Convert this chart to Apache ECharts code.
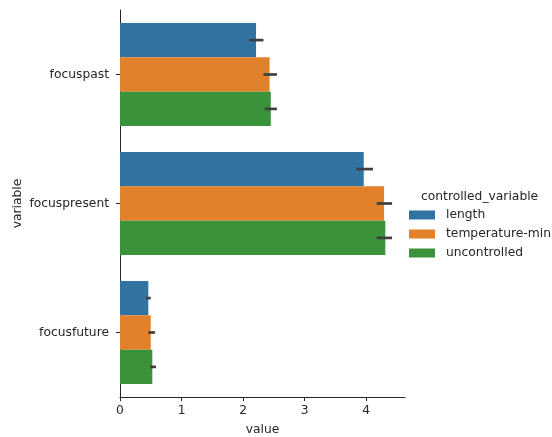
<!DOCTYPE html>
<html><head><meta charset="utf-8">
<script src="https://cdn.jsdelivr.net/npm/echarts@6/dist/echarts.min.js"></script>
<style>html,body{margin:0;padding:0;background:#fff}#c{width:552px;height:437px}</style>
</head><body><div id="c"></div>
<script>
const categories = ['focuspast', 'focuspresent', 'focusfuture'];
const seriesNames = ['length', 'temperature-min', 'uncontrolled'];
const lengthVals = [2.21, 3.96, 0.46];
const tempVals = [2.43, 4.29, 0.50];
const uncVals = [2.45, 4.31, 0.525];
const lengthErr = [[2.10, 2.33], [3.84, 4.11], [0.42, 0.50]];
const tempErr = [[2.33, 2.55], [4.17, 4.42], [0.46, 0.57]];
const uncErr = [[2.35, 2.55], [4.17, 4.42], [0.49, 0.585]];
const xTicks = [0, 1, 2, 3, 4];

const colors = ['#3274a1', '#e1812c', '#3a923a'];
const values = [lengthVals, tempVals, uncVals];
const errs = [lengthErr, tempErr, uncErr];
const font = 'DejaVu Sans';
const txt = '#262626';
const fs = 12.3;

const chart = echarts.init(document.getElementById('c'));
const series = [];
values.forEach((v, i) => {
  series.push({
    name: seriesNames[i], type: 'bar', data: v,
    barGap: '0%', barCategoryGap: '20%',
    itemStyle: { color: colors[i] }, emphasis: { disabled: true }
  });
});
errs.forEach((e, i) => {
  series.push({
    type: 'custom', silent: true, z: 10,
    data: e.map((r, k) => [k, r[0], r[1]]),
    encode: { y: 0, x: [1, 2] },
    renderItem: function (params, api) {
      const k = api.value(0);
      const p1 = api.coord([api.value(1), k]);
      const p2 = api.coord([api.value(2), k]);
      const band = api.size([0, 1])[1];
      const off = (i - 1) * band * 0.8 / 3;
      return {
        type: 'line',
        shape: { x1: p1[0], y1: p1[1] + off, x2: p2[0], y2: p2[1] + off },
        style: { stroke: '#3f3f3f', lineWidth: 2.7 }
      };
    }
  });
});

chart.setOption({
  animation: false,
  textStyle: { fontFamily: font },
  grid: { left: 120, top: 10, right: 147, bottom: 40, containLabel: false, outerBoundsMode: 'none' },
  title: {
    text: 'controlled_variable', left: 421, top: 190, padding: 0,
    textStyle: { fontFamily: font, fontSize: fs, fontWeight: 'normal', color: txt, lineHeight: 13 }
  },
  legend: {
    data: seriesNames, orient: 'vertical', left: 409, top: 209, padding: 0,
    icon: 'rect', itemWidth: 26, itemHeight: 9, itemGap: 7,
    textStyle: { fontFamily: font, fontSize: fs, color: txt, lineHeight: 12, padding: [0, 0, 0, 6] },
    selectedMode: false
  },
  xAxis: {
    type: 'value', min: 0, max: 4.63, interval: 1,
    name: 'value', nameLocation: 'middle', nameGap: 27,
    nameTextStyle: { fontFamily: font, fontSize: fs, color: txt },
    axisLine: { show: true, lineStyle: { color: '#262626', width: 1 } },
    axisTick: { show: true, length: 4, lineStyle: { color: '#262626' }, customValues: xTicks },
    axisLabel: { fontFamily: font, fontSize: fs, color: txt, margin: 8, customValues: xTicks },
    splitLine: { show: false }
  },
  yAxis: {
    type: 'category', data: categories, inverse: true,
    name: 'variable', nameLocation: 'middle', nameGap: 96, nameRotate: 90, nameMoveOverlap: false,
    nameTextStyle: { fontFamily: font, fontSize: fs, color: txt },
    axisLine: { show: true, lineStyle: { color: '#262626', width: 1 } },
    axisTick: { show: true, length: 4, alignWithLabel: true, lineStyle: { color: '#262626' } },
    axisLabel: { fontFamily: font, fontSize: fs, color: txt, margin: 11 }
  },
  series: series
});
</script></body></html>
